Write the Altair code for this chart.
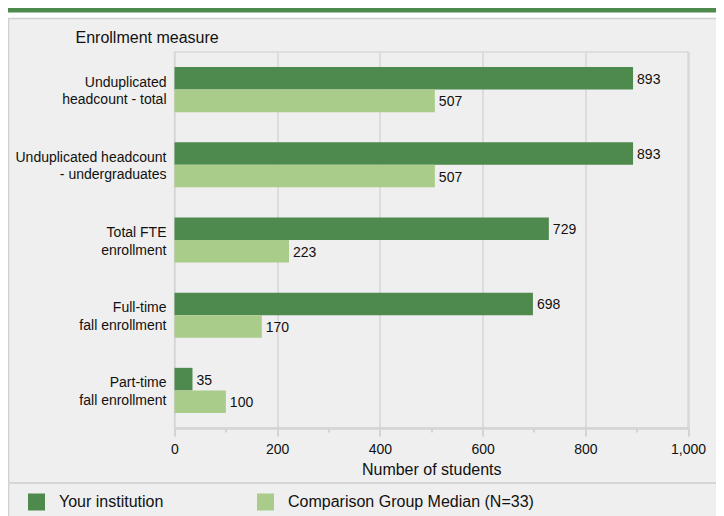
import altair as alt
import pandas as pd

categories = [
    "Unduplicated\nheadcount - total",
    "Unduplicated headcount\n- undergraduates",
    "Total FTE\nenrollment",
    "Full-time\nfall enrollment",
    "Part-time\nfall enrollment",
]
series = ["Your institution", "Comparison Group Median (N=33)"]
your_values = [893, 893, 729, 698, 35]
comparison_values = [507, 507, 223, 170, 100]
x_ticks = [0, 100, 200, 300, 400, 500, 600, 700, 800, 900, 1000]
colors = ["#4e894e", "#a9cc8a"]

rows = []
for c, a, b in zip(categories, your_values, comparison_values):
    rows.append({"measure": c, "series": series[0], "value": a})
    rows.append({"measure": c, "series": series[1], "value": b})
df = pd.DataFrame(rows)

W, H = 513.5, 376
LEFT, TOP = 166.5, 44
RIGHT = 708 - LEFT - W
BOTTOM = 508 - TOP - H
dummy = pd.DataFrame({"k": [0]})

x_enc = alt.X(
    "value:Q",
    scale=alt.Scale(domain=[0, 1000], nice=False),
    axis=alt.Axis(
        values=x_ticks,
        labelExpr="datum.value % 200 === 0 ? format(datum.value, ',') : ''",
        tickSize={"condition": {"test": "datum.value % 200 === 0", "value": 8}, "value": 4},
        gridOpacity={"condition": {"test": "datum.value % 200 === 0", "value": 1}, "value": 0},
        gridColor="#d6d6d6",
        gridWidth=1.5,
        tickColor="#d4d4d4",
        tickWidth=2,
        domainColor="#d4d4d4",
        domainWidth=2.5,
        labelFontSize=14,
        labelColor="#111111",
        labelPadding=6,
        labelFlush=False,
        title="Number of students",
        titleFontSize=16,
        titleFontWeight="normal",
        titleColor="#111111",
        titlePadding=5,
    ),
)
y_enc = alt.Y(
    "measure:N",
    sort=categories,
    scale=alt.Scale(paddingInner=0.4, paddingOuter=0.2),
    axis=alt.Axis(
        labelExpr="split(datum.label, '\\n')",
        ticks=False,
        domain=False,
        grid=False,
        labelPadding=8.5,
        labelFontSize=14,
        labelColor="#111111",
        labelLineHeight=17.5,
        labelOffset=-7,
        labelLimit=300,
        title="Enrollment measure",
        titleAngle=0,
        titleAlign="left",
        titleBaseline="middle",
        titleX=-99.5,
        titleY=-15,
        titleFontSize=16,
        titleFontWeight="normal",
        titleColor="#111111",
    ),
)
yoff = alt.YOffset("series:N", sort=series)

bars = alt.Chart(df).mark_bar().encode(
    x=x_enc,
    y=y_enc,
    yOffset=yoff,
    color=alt.Color(
        "series:N",
        sort=series,
        scale=alt.Scale(domain=series, range=colors),
        legend=alt.Legend(
            orient="none",
            legendX=-146.5,
            legendY=441.5,
            direction="horizontal",
            title=None,
            symbolType="square",
            symbolSize=289,
            symbolStrokeWidth=0,
            labelFontSize=16,
            labelColor="#111111",
            labelOffset=14,
            labelLimit=0,
            columnPadding=93,
        ),
    ),
)
labels = alt.Chart(df).mark_text(
    align="left", baseline="middle", dx=4, dy=1.5, fontSize=14, color="#111111"
).encode(x="value:Q", y=alt.Y("measure:N", sort=categories), yOffset=yoff, text="value:Q")

white_strip = alt.Chart(dummy).mark_rect(color="white").encode(
    x=alt.value(-LEFT), x2=alt.value(560), y=alt.value(-TOP), y2=alt.value(-34)
)
green_bar = alt.Chart(dummy).mark_rect(color=colors[0]).encode(
    x=alt.value(-LEFT), x2=alt.value(560), y=alt.value(-TOP), y2=alt.value(-39.5)
)
panel_top = alt.Chart(dummy).mark_rule(color="#d0d0d0", strokeWidth=1.5).encode(
    x=alt.value(-LEFT), x2=alt.value(560), y=alt.value(-33.5)
)
panel_left = alt.Chart(dummy).mark_rule(color="#d0d0d0", strokeWidth=1.5).encode(
    x=alt.value(-LEFT + 0.5), y=alt.value(-33.5), y2=alt.value(470)
)
separator = alt.Chart(dummy).mark_rule(color="#d6d6d6", strokeWidth=2).encode(
    x=alt.value(-LEFT), x2=alt.value(560), y=alt.value(431)
)

chart = (
    alt.layer(white_strip, green_bar, panel_top, panel_left, separator, bars, labels)
    .properties(
        width=W,
        height=H,
        background="#efefef",
        autosize=alt.AutoSizeParams(type="none"),
        padding={"left": LEFT, "top": TOP, "right": RIGHT, "bottom": BOTTOM},
    )
    .configure(font="Liberation Sans")
    .configure_view(stroke="#d9d9d9", strokeWidth=1.5, fill="#efefef")
)

chart.save("out.html", embed_options={"renderer": "svg", "actions": False})
